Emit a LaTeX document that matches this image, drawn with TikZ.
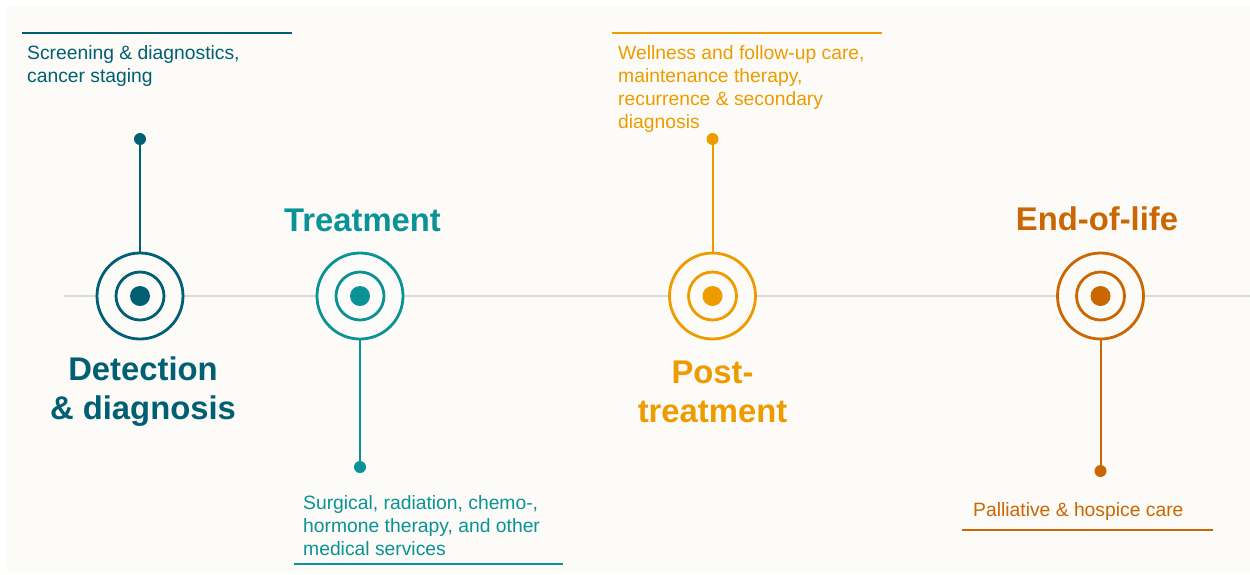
\documentclass[tikz,border=0pt]{standalone}
\usepackage{fontspec}
\setmainfont{Liberation Sans}
\usepackage{tikz}
\usetikzlibrary{%
  calc,%
  positioning,% wg. " of "
  shapes%
}
\definecolor{paper}{HTML}{FCFBF8}
\definecolor{axis}{HTML}{D9D9D9}
\definecolor{deepteal}{HTML}{005F73}
\definecolor{teal}{HTML}{0A9396}
\definecolor{amber}{HTML}{EE9B00}
\definecolor{rust}{HTML}{CA6702}

\begin{document}
\begin{tikzpicture}[x=1pt,y=-1pt]
       \tikzset{outer/.style={circle,minimum size=86pt,inner sep=0pt,line width=2.8pt,draw}}
       \tikzset{inner/.style={circle,minimum size=48pt,inner sep=0pt,line width=2.8pt,draw}}
       \tikzset{core/.style={circle,minimum size=20pt,inner sep=0pt,fill}}
       \tikzset{pindot/.style={circle,minimum size=12pt,inner sep=0pt,fill}}
       \tikzset{stem/.style={line width=2pt}}
       \tikzset{rule/.style={line width=2.4pt}}
       \tikzset{note/.style={font=\fontsize{19.3}{23}\selectfont,align=left,inner sep=0pt,anchor=north west}}
       \tikzset{phase/.style={font=\bfseries\fontsize{32.8}{39}\selectfont,align=center,inner sep=0pt}}

       \useasboundingbox (0,0) rectangle (1250,574);
       \fill[paper] (7,6) rectangle (1250,572);

       % time axis
       \coordinate (axisL) at (64,296);
       \coordinate (axisR) at (1250,296);
       \draw[axis,line width=2pt] (axisL) -- (axisR);

       % the four phases
       \node[outer,deepteal,fill=paper] (outer1) at (140,296) {};
       \node[inner,deepteal] (inner1) at (outer1) {};
       \node[core,deepteal] (core1) at (outer1) {};

       \node[outer,teal,fill=paper] (outer2) at (360,296) {};
       \node[inner,teal] (inner2) at (outer2) {};
       \node[core,teal] (core2) at (outer2) {};

       \node[outer,amber,fill=paper] (outer3) at (712.5,296) {};
       \node[inner,amber] (inner3) at (outer3) {};
       \node[core,amber] (core3) at (outer3) {};

       \node[outer,rust,fill=paper] (outer4) at (1100.5,296) {};
       \node[inner,rust] (inner4) at (outer4) {};
       \node[core,rust] (core4) at (outer4) {};

       % pins
       \node[pindot,deepteal] (pin1) at (140,139) {};
       \node[pindot,teal] (pin2) at (360,467) {};
       \node[pindot,amber] (pin3) at (712.5,139) {};
       \node[pindot,rust] (pin4) at (1100.5,471) {};

       \draw[stem,deepteal] (outer1) -- (pin1);
       \draw[stem,teal] (outer2) -- (pin2);
       \draw[stem,amber] (outer3) -- (pin3);
       \draw[stem,rust] (outer4) -- (pin4);

       % phase titles
       \node[phase,deepteal,anchor=north] (title1) at (143,357) {Detection\\ \& diagnosis};
       \node[phase,teal,anchor=base] (title2) at (362.5,231.5) {Treatment};
       \node[phase,amber,anchor=north] (title3) at (712.5,361) {Post-\\treatment};
       \node[phase,rust,anchor=base] (title4) at (1097,230) {End-of-life};

       % notes with their rules
       \coordinate (rule1a) at (22,33);
       \coordinate (rule1b) at (292,33);
       \draw[rule,deepteal] (rule1a) -- (rule1b);
       \node[note,deepteal] (note1) at (27,45) {Screening \& diagnostics,\\cancer staging};

       \coordinate (rule3a) at (612,33);
       \coordinate (rule3b) at (882,33);
       \draw[rule,amber] (rule3a) -- (rule3b);
       \node[note,amber] (note3) at (618,45) {Wellness and follow-up care,\\maintenance therapy,\\recurrence \& secondary\\diagnosis};

       \node[note,teal] (note2) at (303,495) {Surgical, radiation, chemo-,\\hormone therapy, and other\\medical services};
       \coordinate (rule2a) at (294,564);
       \coordinate (rule2b) at (563,564);
       \draw[rule,teal] (rule2a) -- (rule2b);

       \node[note,rust] (note4) at (973,502) {Palliative \& hospice care};
       \coordinate (rule4a) at (962,530);
       \coordinate (rule4b) at (1213,530);
       \draw[rule,rust] (rule4a) -- (rule4b);
   \end{tikzpicture}
\end{document}
